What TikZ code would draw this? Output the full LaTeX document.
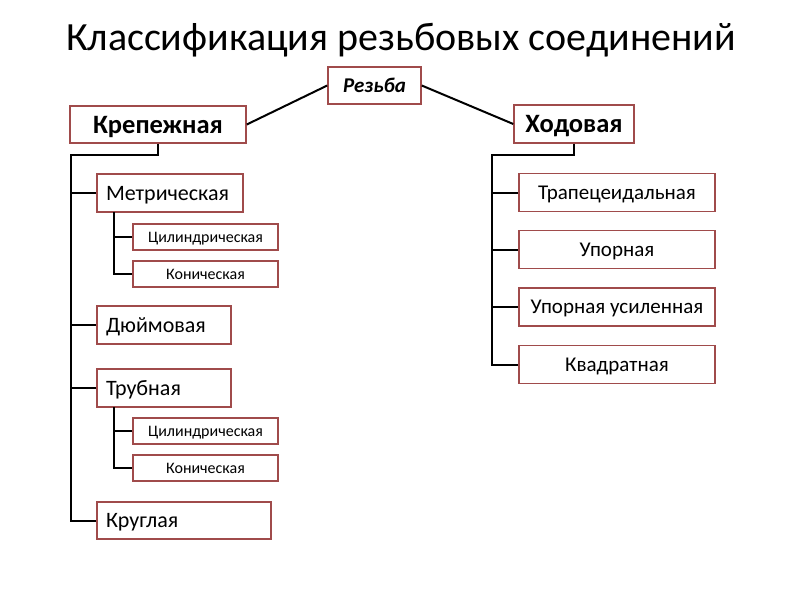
\documentclass[tikz,border=0pt]{standalone}
\usepackage{fontspec}
\setmainfont{Carlito}
\definecolor{boxred}{RGB}{160,75,75}

\begin{document}
\begin{tikzpicture}[x=1pt,y=-1pt,
  box/.style={draw=boxred,line width=1.5pt,fill=white,inner sep=0pt,minimum height=38pt,text depth=0pt},
  topbox/.style={box,font=\fontsize{26.5}{30}\selectfont\bfseries,text height=17pt},
  lbox/.style={box,font=\fontsize{22}{26}\selectfont,text height=14.2pt,inner xsep=9pt,text width=#1,align=left},
  sbox/.style={box,font=\fontsize{16}{19}\selectfont,text height=10.3pt,minimum width=145pt,minimum height=26pt},
  rbox/.style={box,font=\fontsize{21}{25}\selectfont,text height=13.5pt,minimum width=196pt},
  link/.style={line width=2pt}]
\useasboundingbox (0,0) rectangle (800,600);
\node[font=\fontsize{40}{48}\selectfont,anchor=base] (title) at (401,50) {Классификация резьбовых соединений};
% верхний уровень
\node[box,font=\fontsize{21}{25}\selectfont\bfseries\itshape,text height=13.5pt,minimum width=93pt,minimum height=37pt] (rez) at (374.5,85.5) {Резьба};
\node[topbox,minimum width=176pt,minimum height=37pt] (krep) at (158,124.5) {Крепежная};
\node[topbox,minimum width=120pt] (hod) at (574,124) {Ходовая};
\draw[link] (rez.west) -- (krep.east);
\draw[link] (rez.east) -- (hod.west);
% крепежная
\node[lbox=128pt] (metr) at (170,193) {Метрическая};
\node[sbox] (cyla) at (205.5,237) {Цилиндрическая};
\node[sbox] (kona) at (205.5,274) {Коническая};
\node[lbox=116pt] (dyum) at (164,325) {Дюймовая};
\node[lbox=116pt] (trub) at (164,388) {Трубная};
\node[sbox] (cylb) at (205.5,431) {Цилиндрическая};
\node[sbox] (konb) at (205.5,468) {Коническая};
\node[lbox=156pt,minimum height=37pt] (krug) at (184,520.5) {Круглая};
\coordinate (ltrunk) at (71,155);
\draw[link] (krep.south) |- (ltrunk) |- (krug.west);
\draw[link] (ltrunk |- metr.west) -- (metr.west);
\draw[link] (ltrunk |- dyum.west) -- (dyum.west);
\draw[link] (ltrunk |- trub.west) -- (trub.west);
\coordinate (mtrunk) at (114,212);
\draw[link] (mtrunk) |- (kona.west);
\draw[link] (mtrunk |- cyla.west) -- (cyla.west);
\coordinate (ttrunk) at (114,407);
\draw[link] (ttrunk) |- (konb.west);
\draw[link] (ttrunk |- cylb.west) -- (cylb.west);
% ходовая
\node[rbox] (trap) at (617,192.5) {Трапецеидальная};
\node[rbox] (upor) at (617,249.5) {Упорная};
\node[rbox] (upus) at (617,307) {Упорная усиленная};
\node[rbox] (kvad) at (617,364.5) {Квадратная};
\coordinate (rtrunk) at (492,155);
\draw[link] (hod.south) |- (rtrunk) |- (kvad.west);
\draw[link] (rtrunk |- trap.west) -- (trap.west);
\draw[link] (rtrunk |- upor.west) -- (upor.west);
\draw[link] (rtrunk |- upus.west) -- (upus.west);
\end{tikzpicture}
\end{document}
